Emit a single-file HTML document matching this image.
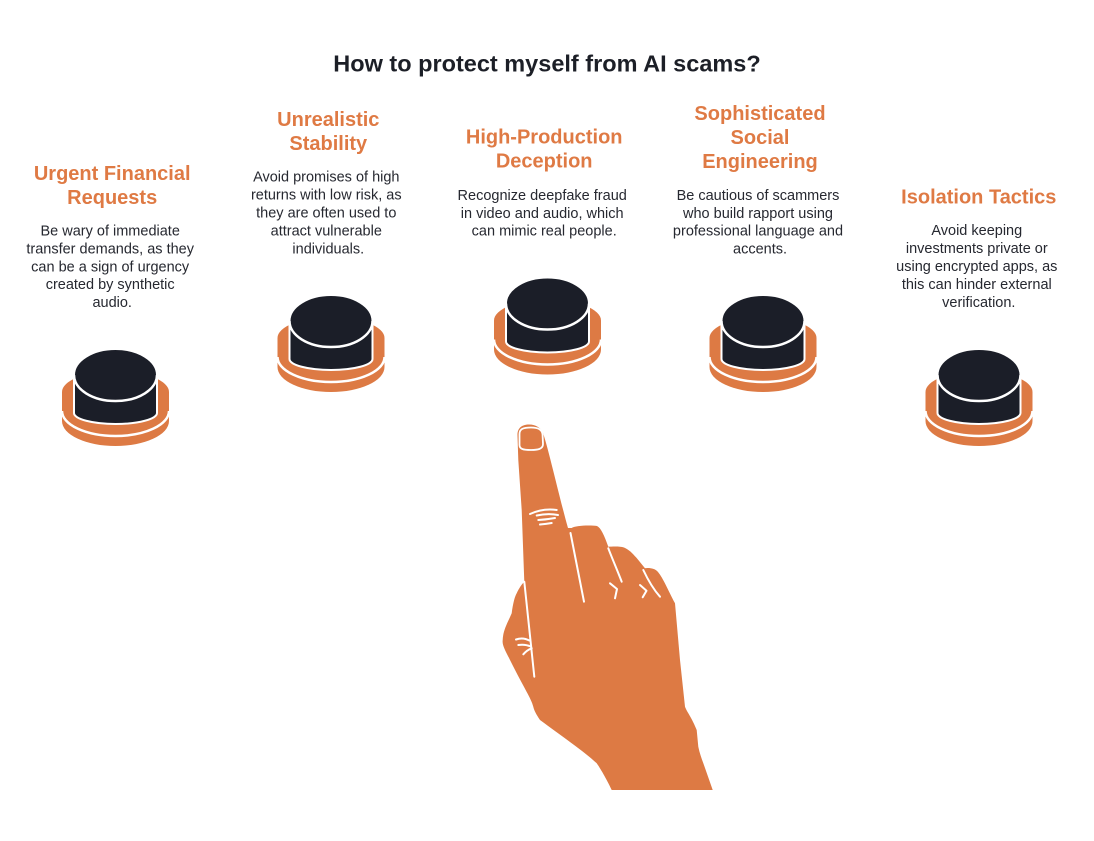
<!DOCTYPE html>
<html>
<head>
<meta charset="utf-8">
<style>
  html,body{margin:0;padding:0;background:#ffffff;}
  body{width:1094px;height:841px;overflow:hidden;}
  svg{display:block;}
  .title{font-family:"Liberation Sans",Arial,sans-serif;font-weight:bold;font-size:23.5px;fill:#1c1f27;}
  .hd{font-family:"Liberation Sans",Arial,sans-serif;font-weight:bold;font-size:20px;fill:#DF7A44;}
  .bd{font-family:"Liberation Sans",Arial,sans-serif;font-size:14.5px;fill:#262830;}
</style>
</head>
<body>
<svg width="1094" height="841" viewBox="0 0 1094 841" xmlns="http://www.w3.org/2000/svg">
  <defs>
    <g id="btn">
      <!-- orange base -->
      <path d="M -53.5,43 A 53.5 21 0 0 1 53.5,43 L 53.5,72 A 53.5 25 0 0 1 -53.5,72 Z" fill="#DD7A44"/>
      <path d="M -53.5,62 A 53.5 25 0 0 0 53.5,62" fill="none" stroke="#ffffff" stroke-width="2.5"/>
      <!-- dark cylinder -->
      <path d="M -41.5,26 A 41.5 26 0 0 1 41.5,26 L 41.5,64 A 41.5 11 0 0 1 -41.5,64 Z" fill="#1b1e28" stroke="#ffffff" stroke-width="2"/>
      <path d="M -41.5,26 A 41.5 26 0 0 0 41.5,26" fill="none" stroke="#ffffff" stroke-width="2.5"/>
    </g>
  </defs>

  <text class="title" x="547" y="71.5" text-anchor="middle">How to protect myself from AI scams?</text>

  <!-- Column 1 -->
  <text class="hd" x="112.2" y="180" text-anchor="middle">Urgent Financial</text>
  <text class="hd" x="112.2" y="204" text-anchor="middle">Requests</text>
  <text class="bd" text-anchor="middle">
    <tspan x="112.2" y="235.7">Be wary of immediate</tspan>
    <tspan x="112.2" y="253.5">transfer demands, as they</tspan>
    <tspan x="112.2" y="271.3">can be a sign of urgency</tspan>
    <tspan x="112.2" y="289.1">created by synthetic</tspan>
    <tspan x="112.2" y="306.9">audio.</tspan>
  </text>

  <!-- Column 2 -->
  <text class="hd" x="328.3" y="126" text-anchor="middle">Unrealistic</text>
  <text class="hd" x="328.3" y="150" text-anchor="middle">Stability</text>
  <text class="bd" text-anchor="middle">
    <tspan x="328.3" y="181.7">Avoid promises of high</tspan>
    <tspan x="328.3" y="199.6">returns with low risk, as</tspan>
    <tspan x="328.3" y="217.5">they are often used to</tspan>
    <tspan x="328.3" y="235.4">attract vulnerable</tspan>
    <tspan x="328.3" y="253.3">individuals.</tspan>
  </text>

  <!-- Column 3 -->
  <text class="hd" x="544.2" y="143.5" text-anchor="middle">High-Production</text>
  <text class="hd" x="544.2" y="167.5" text-anchor="middle">Deception</text>
  <text class="bd" text-anchor="middle">
    <tspan x="544.2" y="200">Recognize deepfake fraud</tspan>
    <tspan x="544.2" y="217.8">in video and audio, which</tspan>
    <tspan x="544.2" y="235.6">can mimic real people.</tspan>
  </text>

  <!-- Column 4 -->
  <text class="hd" x="760" y="120" text-anchor="middle">Sophisticated</text>
  <text class="hd" x="760" y="144" text-anchor="middle">Social</text>
  <text class="hd" x="760" y="168" text-anchor="middle">Engineering</text>
  <text class="bd" text-anchor="middle">
    <tspan x="760" y="200">Be cautious of scammers</tspan>
    <tspan x="760" y="217.8">who build rapport using</tspan>
    <tspan x="760" y="235.6">professional language and</tspan>
    <tspan x="760" y="253.4">accents.</tspan>
  </text>

  <!-- Column 5 -->
  <text class="hd" x="978.8" y="203.3" text-anchor="middle">Isolation Tactics</text>
  <text class="bd" text-anchor="middle">
    <tspan x="978.8" y="235">Avoid keeping</tspan>
    <tspan x="978.8" y="253">investments private or</tspan>
    <tspan x="978.8" y="271">using encrypted apps, as</tspan>
    <tspan x="978.8" y="289">this can hinder external</tspan>
    <tspan x="978.8" y="307">verification.</tspan>
  </text>

  <!-- Buttons -->
  <use href="#btn" transform="translate(115.5,349)"/>
  <use href="#btn" transform="translate(331,295)"/>
  <use href="#btn" transform="translate(547.5,277.5)"/>
  <use href="#btn" transform="translate(763,295)"/>
  <use href="#btn" transform="translate(979,349)"/>

  <!-- Hand -->
  <path fill="#DD7A44" d="
    M 517.5,436
    C 517,428 522,424.5 529,424.5
    C 536,424.5 541,428 543,433
    C 548,447 560,500 568,528
    L 571.7,528
    C 575,525.5 590,525 597,526
    C 601,528 604,535 608.3,546.7
    C 612,546.5 620,546 624,547.5
    C 630,550 634,555 638.3,560
    L 645,568.3
    C 648,567.5 655,568 658,572
    C 663,578 668,590 675,603.3
    L 680,660
    L 685,706.7
    C 687,712 692,718 696.7,730
    L 698.3,746.7
    C 700,755 703,762 705,768
    L 712.7,790
    L 611.7,790
    C 606,778 600,768 596.7,763.3
    C 585,752 560,735 540,720
    C 536,714 534,710 533.3,706.7
    C 531,698 525,690 510,660
    C 505,650 502,645 502.7,640
    C 503,630 508,622 511.7,613.3
    C 513,603 515,596 516.7,593.3
    C 519,588 522,584 524.3,581.7
    L 521.7,510
    L 518.3,460
    Z"/>
  <g fill="none" stroke="#ffffff" stroke-width="2" stroke-linecap="round" stroke-linejoin="round">
    <!-- nail -->
    <path d="M 519.5,445 L 519.5,434 C 519.5,429 523,427.5 531,427.5 C 539,427.5 542,430 542.5,434 L 543,444 C 543,449 538,450 531,450 C 523,450 519.5,449 519.5,445 Z" stroke-width="1.8"/>
    <!-- knuckle lines -->
    <path d="M 530,514 Q 543,508 556.7,510"/>
    <path d="M 536.7,515.5 Q 548,513 558,515"/>
    <path d="M 538.3,520 Q 547,519.5 555,518"/>
    <path d="M 540,524.5 Q 546,524 551.7,523"/>
    <!-- finger dividers -->
    <path d="M 570.5,533 L 584,601.7"/>
    <path d="M 608.3,548.3 C 612,558 618,572 621.7,581.7"/>
    <path d="M 643.3,570 C 648,580 654,590 660,596.7"/>
    <path d="M 524.3,581.7 L 534.3,676.7"/>
    <!-- chevrons -->
    <path d="M 610,583.3 L 617,589 L 615,598.3"/>
    <path d="M 640,585 L 646.5,590.7 L 642.7,597.3"/>
    <!-- thumb lines -->
    <path d="M 516,639.5 Q 523,637 529.3,640.5"/>
    <path d="M 518.3,645 Q 525,644 530.7,646.5"/>
    <path d="M 523.3,654.3 Q 527,650 531.7,648.3"/>
  </g>
</svg>
</body>
</html>
